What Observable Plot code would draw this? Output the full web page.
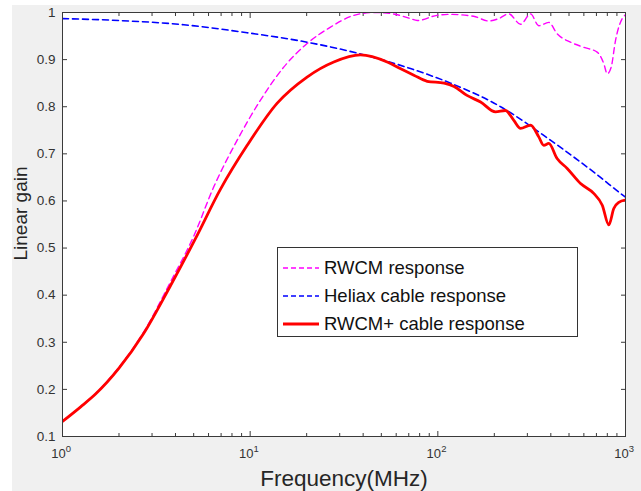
<!DOCTYPE html>
<html>
<head>
<meta charset="utf-8">
<script src="https://cdn.jsdelivr.net/npm/d3@7"></script>
<script src="https://cdn.jsdelivr.net/npm/@observablehq/plot@0.6"></script>
<style>
  html, body { margin: 0; padding: 0; background: #ffffff; width: 641px; height: 491px; overflow: hidden; }
  #fig { position: absolute; left: 12px; top: 5px; width: 629px; height: 486px; background: #f0f0f0; }
  #legend { position: absolute; left: 277px; top: 247px; width: 299px; height: 88px; background: #fff;
            border: 1px solid #333; font-family: "Liberation Sans", Arial, sans-serif; font-size: 18.5px; color: #111; }
  #legend .row { position: absolute; left: 0; height: 28px; display: flex; align-items: center; }
  #legend svg { margin-left: 4px; margin-right: 4px; }
</style>
</head>
<body>
<div id="fig"></div>
<div id="legend"></div>
<script>
// ---- data ----
const rwcmFreq = [1, 1.25, 1.5, 2, 2.7, 3.76, 5.0, 6.4, 8.53, 11.35, 15.1, 20.1, 26.8, 35.7, 45.6, 58, 71.5, 77.7, 99, 117, 155, 187, 211, 239, 276, 312, 345, 390, 432, 509, 600, 706, 767, 799, 839, 885, 960, 1000];
const rwcmGain = [0.132, 0.163, 0.191, 0.247, 0.321, 0.428, 0.525, 0.630, 0.729, 0.814, 0.884, 0.934, 0.969, 0.994, 1.0, 0.997, 0.987, 0.983, 0.994, 0.996, 0.992, 0.982, 0.987, 0.997, 0.975, 0.997, 0.972, 0.979, 0.955, 0.937, 0.926, 0.916, 0.891, 0.870, 0.884, 0.941, 0.987, 0.995];

const heliaxFreq = [1, 2, 4.43, 9.64, 20.1, 38.7, 71.5, 117, 216, 398, 736, 940, 1000];
const heliaxGain = [0.987, 0.983, 0.974, 0.957, 0.937, 0.912, 0.881, 0.85, 0.80, 0.729, 0.65, 0.616, 0.608];

const totalFreq = [1, 1.25, 1.5, 2, 2.7, 3.76, 5.11, 6.95, 9.64, 13.9, 20.1, 27.9, 38.7, 53.7, 63, 74.5, 87.7, 108, 122, 143, 169, 203, 229, 254, 276, 312, 345, 367, 390, 432, 489, 576, 677, 752, 815, 866, 921, 1000];
const totalGain = [0.132, 0.163, 0.190, 0.245, 0.318, 0.42, 0.52, 0.625, 0.718, 0.807, 0.863, 0.895, 0.910, 0.895, 0.881, 0.867, 0.854, 0.850, 0.843, 0.824, 0.810, 0.789, 0.792, 0.771, 0.754, 0.761, 0.736, 0.718, 0.722, 0.690, 0.669, 0.637, 0.616, 0.591, 0.549, 0.584, 0.597, 0.602];

const seriesNames = ["RWCM response", "Heliax cable response", "RWCM+ cable response"];
const xMajorTicks = [1, 10, 100, 1000];
const xTickBase = "10";
const xTickExponents = ["0", "1", "2", "3"];
const xMinorTicks = [2, 3, 4, 5, 6, 7, 8, 9, 20, 30, 40, 50, 60, 70, 80, 90, 200, 300, 400, 500, 600, 700, 800, 900];
const yTicks = [0.1, 0.2, 0.3, 0.4, 0.5, 0.6, 0.7, 0.8, 0.9, 1];
const yTickLabels = ["0.1", "0.2", "0.3", "0.4", "0.5", "0.6", "0.7", "0.8", "0.9", "1"];
const xLabel = "Frequency(MHz)";
const yLabel = "Linear gain";

const toRows = (fs, gs) => fs.map((f, i) => ({f, g: gs[i]}));
const rwcm = toRows(rwcmFreq, rwcmGain);
const heliax = toRows(heliaxFreq, heliaxGain);
const total = toRows(totalFreq, totalGain);

const axisColor = "#3a3a3a";
const labelColor = "#333333";
const font = "'Liberation Sans', Arial, sans-serif";

const chart = Plot.plot({
  width: 629,
  height: 486,
  marginLeft: 50,
  marginRight: 16,
  marginTop: 7,
  marginBottom: 55,
  style: {background: "transparent", fontFamily: font, color: axisColor, overflow: "visible"},
  x: {type: "log", domain: [1, 1000]},
  y: {domain: [0.1, 1]},
  marks: [
    Plot.frame({fill: "white", stroke: null}),
    // tick marks (inward) on all four sides
    Plot.axisX({anchor: "bottom", ticks: xMajorTicks, tickSize: -5, tickFormat: () => "", label: null, stroke: axisColor}),
    Plot.axisX({anchor: "top", ticks: xMajorTicks, tickSize: -5, tickFormat: () => "", label: null, stroke: axisColor}),
    Plot.axisX({anchor: "bottom", ticks: xMinorTicks, tickSize: -3, tickFormat: () => "", label: null, stroke: axisColor}),
    Plot.axisX({anchor: "top", ticks: xMinorTicks, tickSize: -3, tickFormat: () => "", label: null, stroke: axisColor}),
    Plot.axisY({anchor: "left", ticks: yTicks, tickSize: -5, tickFormat: () => "", label: null, stroke: axisColor}),
    Plot.axisY({anchor: "right", ticks: yTicks, tickSize: -5, tickFormat: () => "", label: null, stroke: axisColor}),
    // x tick labels: base and superscript exponent
    Plot.text(xMajorTicks, {x: d => d, frameAnchor: "bottom", text: () => xTickBase, dx: -4, dy: 17,
      lineAnchor: "middle", textAnchor: "middle", fontSize: 13, fill: labelColor}),
    Plot.text(xMajorTicks, {x: d => d, frameAnchor: "bottom", text: (d, i) => xTickExponents[i], dx: 6, dy: 12,
      lineAnchor: "middle", textAnchor: "middle", fontSize: 9.5, fill: labelColor}),
    // y tick labels
    Plot.axisY({anchor: "left", ticks: yTicks, tickSize: 0, tickPadding: 7,
      tickFormat: d => yTickLabels[yTicks.indexOf(d)], label: null, fontSize: 13.5, fill: labelColor}),
    // curves
    Plot.line(heliax, {x: "f", y: "g", stroke: "#0000ff", strokeWidth: 1.6, strokeDasharray: "6,4", curve: "monotone-x", clip: true}),
    Plot.line(rwcm, {x: "f", y: "g", stroke: "#ff00ff", strokeWidth: 1.4, strokeDasharray: "6,4", curve: "monotone-x", clip: true}),
    Plot.line(total, {x: "f", y: "g", stroke: "#ff0000", strokeWidth: 2.8, curve: "monotone-x", clip: true}),
    Plot.frame({stroke: axisColor, strokeWidth: 1}),
    // axis titles
    Plot.text([xLabel], {frameAnchor: "bottom", dy: 42, fontSize: 22.5, fill: "#262626", lineAnchor: "middle", textAnchor: "middle"}),
    Plot.text([yLabel], {frameAnchor: "left", dx: -42, dy: -11, rotate: -90, fontSize: 19, fill: "#262626", lineAnchor: "middle", textAnchor: "middle"})
  ]
});
document.getElementById("fig").appendChild(chart);

// legend
const legend = document.getElementById("legend");
const styles = [
  {stroke: "#ff00ff", w: 1.4, dash: "5,3"},
  {stroke: "#0000ff", w: 1.6, dash: "5,3"},
  {stroke: "#ff0000", w: 2.8, dash: null}
];
seriesNames.forEach((name, i) => {
  const row = document.createElement("div");
  row.className = "row";
  row.style.top = (6 + i * 28) + "px";
  const s = styles[i];
  row.innerHTML = `<svg width="38" height="10"><line x1="1" y1="5" x2="37" y2="5" stroke="${s.stroke}" stroke-width="${s.w}" ${s.dash ? `stroke-dasharray="${s.dash}"` : ""}/></svg><span>${name}</span>`;
  legend.appendChild(row);
});
</script>
</body>
</html>
